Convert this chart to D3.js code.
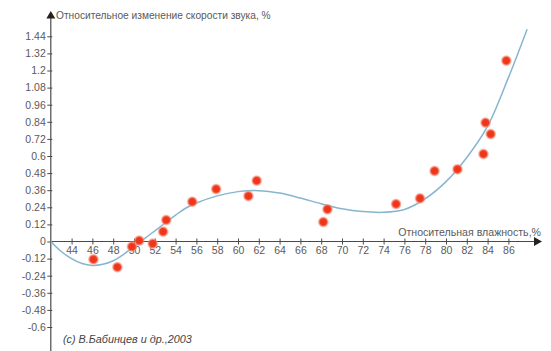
<!DOCTYPE html>
<html><head><meta charset="utf-8">
<script src="https://cdn.jsdelivr.net/npm/d3@7"></script>
<style>
html,body{margin:0;padding:0;background:#fff;}
svg{display:block;}
text{font-family:"Liberation Sans",Arial,sans-serif;}
</style></head>
<body>
<script>
// Measured data (relative humidity %, relative change of sound speed %)
const humidity = [46.1, 48.4, 49.8, 50.5, 51.8, 52.8, 53.1, 55.6, 57.9, 61.0, 61.8, 68.2, 68.6, 75.2, 77.5, 78.9, 81.1, 83.6, 83.8, 84.3, 85.8];
const speedChange = [-0.125, -0.18, -0.036, 0.006, -0.015, 0.069, 0.151, 0.279, 0.368, 0.319, 0.427, 0.137, 0.226, 0.263, 0.303, 0.495, 0.507, 0.614, 0.834, 0.754, 1.269];
// Fitted trend curve
const fitX = [42, 43, 44, 45, 46, 47, 48, 49, 50, 51, 52, 53, 54, 55, 56, 58, 60, 62, 64, 66, 68, 70, 72, 74, 76, 78, 80, 82, 84, 86, 87.8];
const fitY = [0, -0.07, -0.12, -0.155, -0.168, -0.16, -0.135, -0.09, -0.035, 0.02, 0.075, 0.13, 0.185, 0.235, 0.27, 0.32, 0.35, 0.357, 0.34, 0.305, 0.265, 0.23, 0.21, 0.205, 0.225, 0.3, 0.42, 0.59, 0.81, 1.15, 1.49];
// Tick labels
const xTicks = [44, 46, 48, 50, 52, 54, 56, 58, 60, 62, 64, 66, 68, 70, 72, 74, 76, 78, 80, 82, 84, 86];
const yTicks = [1.44, 1.32, 1.2, 1.08, 0.96, 0.84, 0.72, 0.6, 0.48, 0.36, 0.24, 0.12, 0, -0.12, -0.24, -0.36, -0.48, -0.6];
const yTitle = "Относительное изменение скорости звука, %";
const xTitle = "Относительная влажность,%";
const credit = "(c) В.Бабинцев и др.,2003";

const W = 551, H = 351;
const svg = d3.select("body").append("svg").attr("width", W).attr("height", H);

const defs = svg.append("defs");
const grad = defs.append("radialGradient").attr("id", "dot");
grad.append("stop").attr("offset", "0%").attr("stop-color", "#ee3018");
grad.append("stop").attr("offset", "55%").attr("stop-color", "#f03c20");
grad.append("stop").attr("offset", "75%").attr("stop-color", "#f47a60").attr("stop-opacity", 0.7);
grad.append("stop").attr("offset", "100%").attr("stop-color", "#f8b0a0").attr("stop-opacity", 0);

const x = d3.scaleLinear().domain([42, 89]).range([50.8, 539.6]);
const y = d3.scaleLinear().domain([0, 1.44]).range([241.5, 36.3]);
const axisCol = "#4a4a4a", textCol = "#5a5a5a";

// X axis
const gx = svg.append("g").attr("transform", `translate(0,${y(0)})`)
  .call(d3.axisBottom(x).tickValues(xTicks).tickSize(3).tickSizeOuter(0).tickFormat(d3.format("d")));
gx.select(".domain").remove();
gx.selectAll(".tick line").attr("y1", -3).attr("y2", 3).attr("stroke", axisCol);
gx.selectAll(".tick text").attr("y", 5).attr("dy", "0.71em").attr("fill", textCol)
  .style("font-size", "10.5px").style("font-family", '"Liberation Sans",Arial,sans-serif');
svg.append("line").attr("x1", x(42)).attr("x2", 534).attr("y1", y(0)).attr("y2", y(0))
  .attr("stroke", axisCol).attr("stroke-width", 1.2);
svg.append("path").attr("d", `M534,${y(0)-4.5}L542,${y(0)}L534,${y(0)+4.5}Z`).attr("fill", "#222");

// Y axis
const gy = svg.append("g").attr("transform", `translate(${x(42)},0)`)
  .call(d3.axisLeft(y).tickValues(yTicks).tickSize(3).tickSizeOuter(0).tickFormat(d => String(+d.toFixed(2))));
gy.select(".domain").remove();
gy.selectAll(".tick line").attr("x1", -3.5).attr("x2", 1.5).attr("stroke", axisCol);
gy.selectAll(".tick text").attr("x", -5).attr("fill", textCol)
  .style("font-size", "10.5px").style("font-family", '"Liberation Sans",Arial,sans-serif');
svg.append("line").attr("x1", x(42)).attr("x2", x(42)).attr("y1", 17).attr("y2", H)
  .attr("stroke", axisCol).attr("stroke-width", 1.2);
svg.append("path").attr("d", `M${x(42)-4.5},18.5L${x(42)},11L${x(42)+4.5},18.5Z`).attr("fill", "#222");

// Titles
svg.append("text").attr("x", 56).attr("y", 15.5).attr("dy", "0.35em").attr("fill", textCol)
  .style("font-size", "10.2px").text(yTitle);
svg.append("text").attr("x", 541).attr("y", 232).attr("dy", "0.35em").attr("text-anchor", "end")
  .attr("fill", textCol).style("font-size", "10.6px").text(xTitle);
svg.append("text").attr("x", 63).attr("y", 339).attr("dy", "0.35em").attr("fill", "#444")
  .style("font-size", "10.8px").style("font-style", "italic").text(credit);

// Fit curve
const fit = fitX.map((v, i) => [v, fitY[i]]);
svg.append("path").datum(fit)
  .attr("d", d3.line().x(d => x(d[0])).y(d => y(d[1])).curve(d3.curveCatmullRom))
  .attr("fill", "none").attr("stroke", "#86b6cf").attr("stroke-width", 1.5);

// Points
const pts = humidity.map((v, i) => [v, speedChange[i]]);
svg.append("g").selectAll("circle").data(pts).join("circle")
  .attr("cx", d => x(d[0])).attr("cy", d => y(d[1])).attr("r", 6)
  .attr("fill", "url(#dot)");
</script>
</body></html>
